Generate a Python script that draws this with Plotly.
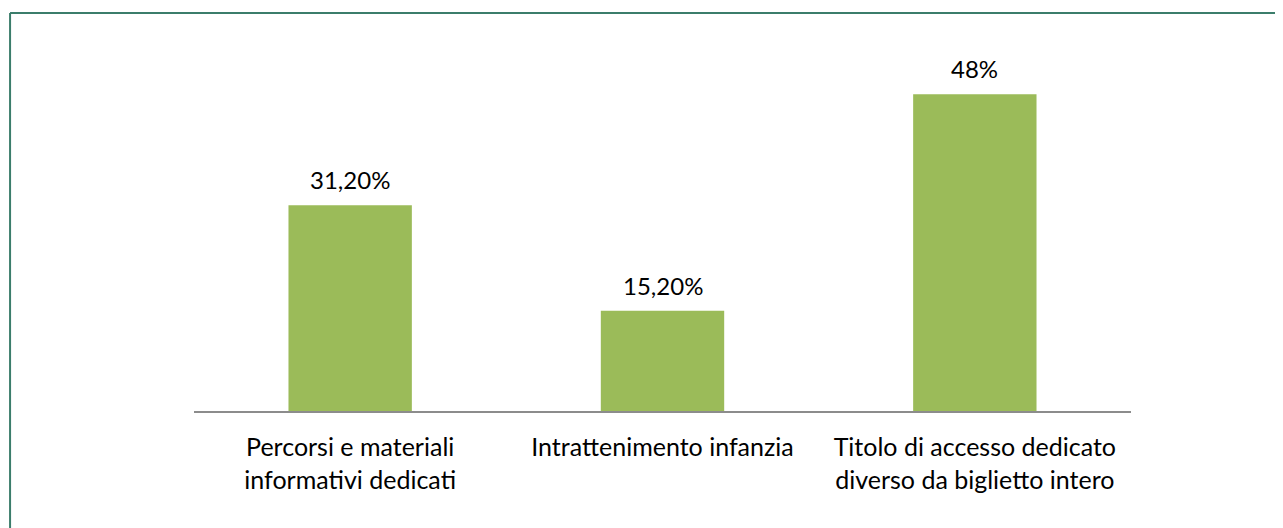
"""Bar chart: servizi dedicati (percentuali)."""

import plotly.graph_objects as go

categories = [
    "Percorsi e materiali<br>informativi dedicati",
    "Intrattenimento infanzia",
    "Titolo di accesso dedicato<br>diverso da biglietto intero",
]
values = [31.2, 15.2, 48.0]
value_labels = ["31,20%", "15,20%", "48%"]

BAR_COLOUR = "#9bbb59"
BORDER_COLOUR = "#3b7d6b"
FONT = "Lato, Open Sans, sans-serif"

fig = go.Figure()
fig.add_trace(
    go.Bar(
        x=categories,
        y=values,
        marker_color=BAR_COLOUR,
        marker_line_width=0,
        hoverinfo="skip",
    )
)

for cat, val, lab in zip(categories, values, value_labels):
    fig.add_annotation(
        x=cat, y=val, text=lab, showarrow=False,
        yanchor="bottom", yshift=9,
        font=dict(family=FONT, size=24, color="#000000"),
    )

# outer frame (top and left edges of the chart box)
fig.add_shape(type="line", xref="paper", yref="paper",
              x0=-0.1963, x1=1.3, y0=1.1339, y1=1.1339,
              line=dict(color=BORDER_COLOUR, width=2))
fig.add_shape(type="line", xref="paper", yref="paper",
              x0=-0.1963, x1=-0.1963, y0=-0.5, y1=1.1339,
              line=dict(color=BORDER_COLOUR, width=2))

# page body adds an 8px offset, so the figure is 8px smaller than the window
fig.update_layout(
    width=1275,
    height=520,
    margin=dict(l=186, r=151.5, t=52, b=117),
    paper_bgcolor="white",
    plot_bgcolor="white",
    bargap=0.605,
    showlegend=False,
    font=dict(family=FONT, size=25, color="#000000"),
)
fig.update_xaxes(
    showline=True, linecolor="#8c8c8c", linewidth=2,
    ticks="outside", ticklen=13, tickcolor="rgba(0,0,0,0)",
    tickfont=dict(family=FONT, size=25, color="#000000"),
)
fig.update_yaxes(
    range=[0, 53.2], visible=False, showgrid=False,
)

fig.write_html("out.html")
